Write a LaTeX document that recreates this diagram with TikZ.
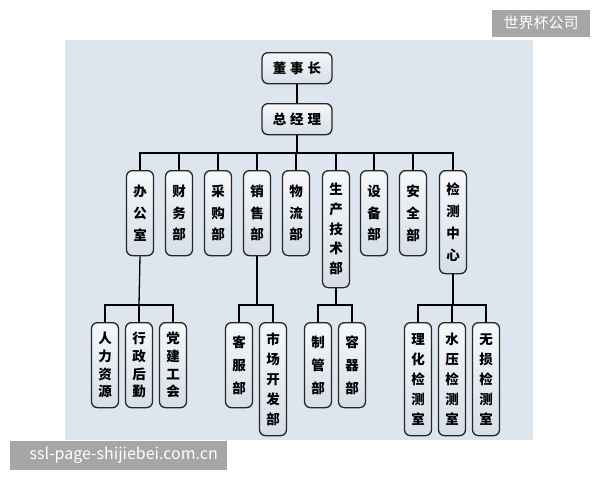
\documentclass[tikz,border=0pt]{standalone}
\usepackage{fontspec}
\newfontfamily\cjk{Noto Sans CJK SC}
\definecolor{bgblue}{RGB}{221,230,239}
\definecolor{boxtop}{RGB}{246,248,250}
\definecolor{boxbot}{RGB}{214,222,231}
\definecolor{wmgray}{RGB}{166,166,166}
\tikzset{
  box/.style={draw=black!85, line width=1.3pt, rounded corners=6pt,
    top color=boxtop, bottom color=boxbot, inner sep=0pt, align=center,
    anchor=north, minimum width=27pt},
  vb/.style 2 args={box, minimum height=#1, font=\cjk\bfseries\fontsize{13.5}{#2}\selectfont},
  hb/.style={box, minimum width=70pt, minimum height=31pt, font=\cjk\bfseries\fontsize{13.5}{16}\selectfont},
  link/.style={draw=black, line width=1.3pt},
  wm/.style={fill=wmgray, text=white, inner sep=0pt}
}
\begin{document}
\begin{tikzpicture}[x=1pt,y=-1pt]
\useasboundingbox (0,0) rectangle (600,480);
\fill[white] (0,0) rectangle (600,480);
\fill[bgblue] (65,40) rectangle (533,440);

% top
\node[hb] (dsz) at (297,52) {董\hspace{4pt}事\hspace{4pt}长};
\node[hb] (zjl) at (297,103) {总\hspace{4pt}经\hspace{4pt}理};

% level 2
\node[vb={85pt}{21.7pt}] (bgs) at (140,170) {办\\公\\室};
\node[vb={85pt}{21.7pt}] (cwb) at (179,170) {财\\务\\部};
\node[vb={85pt}{21.7pt}] (cgb) at (218,170) {采\\购\\部};
\node[vb={85pt}{21.7pt}] (xsb) at (257,170) {销\\售\\部};
\node[vb={85pt}{21.7pt}] (wlb) at (296,170) {物\\流\\部};
\node[vb={117pt}{19.7pt}] (scjs) at (336,170) {生\\产\\技\\术\\部};
\node[vb={85pt}{21.7pt}] (sbb) at (374,170) {设\\备\\部};
\node[vb={85pt}{21.7pt}] (aqb) at (413,170) {安\\全\\部};
\node[vb={103pt}{21.7pt}] (jczx) at (453,170) {检\\测\\中\\心};

% level 3
\node[vb={85pt}{17.7pt}] (rlzy) at (105,322) {人\\力\\资\\源};
\node[vb={85pt}{17.7pt}] (xzhq) at (139,322) {行\\政\\后\\勤};
\node[vb={85pt}{17.7pt}] (djgh) at (173,322) {党\\建\\工\\会};
\node[vb={85pt}{23pt}] (kfb) at (239,322) {客\\服\\部};
\node[vb={113pt}{20pt}] (sckf) at (273,322) {市\\场\\开\\发\\部};
\node[vb={85pt}{23pt}] (zgb) at (318,322) {制\\管\\部};
\node[vb={85pt}{23pt}] (rqb) at (352,322) {容\\器\\部};
\node[vb={113pt}{20pt}] (lhjc) at (418,322) {理\\化\\检\\测\\室};
\node[vb={113pt}{20pt}] (syjc) at (452,322) {水\\压\\检\\测\\室};
\node[vb={113pt}{20pt}] (wsjc) at (486,322) {无\\损\\检\\测\\室};

% bus coordinates
\coordinate (b0) at (297,153);
\coordinate (b1) at (139,305);
\coordinate (b2) at (257,305);
\coordinate (b3) at (336,305);
\coordinate (b4) at (453,305);

\draw[link] (dsz) -- (zjl);
\draw[link] (zjl) -- (b0);
\foreach \n in {bgs,cwb,cgb,xsb,wlb,scjs,sbb,aqb,jczx}
  \draw[link] (\n.north) |- (b0);

\draw[link] (bgs.south) -- (b1);
\foreach \n in {rlzy,xzhq,djgh} \draw[link] (\n.north) |- (b1);
\draw[link] (xsb.south) -- (b2);
\foreach \n in {kfb,sckf} \draw[link] (\n.north) |- (b2);
\draw[link] (scjs.south) -- (b3);
\foreach \n in {zgb,rqb} \draw[link] (\n.north) |- (b3);
\draw[link] (jczx.south) -- (b4);
\foreach \n in {lhjc,syjc,wsjc} \draw[link] (\n.north) |- (b4);

% watermarks
\node[wm, minimum width=98pt, minimum height=27pt, font=\cjk\fontsize{15}{15}\selectfont] (wm1) at (541,23) {世界杯公司};
\node[wm, minimum width=217pt, minimum height=29pt, font=\cjk\fontsize{16}{16}\selectfont, anchor=west] (wm2) at (10,455) {\hspace{10pt}ssl-page-shijiebei.com.cn\hfill};
\end{tikzpicture}
\end{document}
